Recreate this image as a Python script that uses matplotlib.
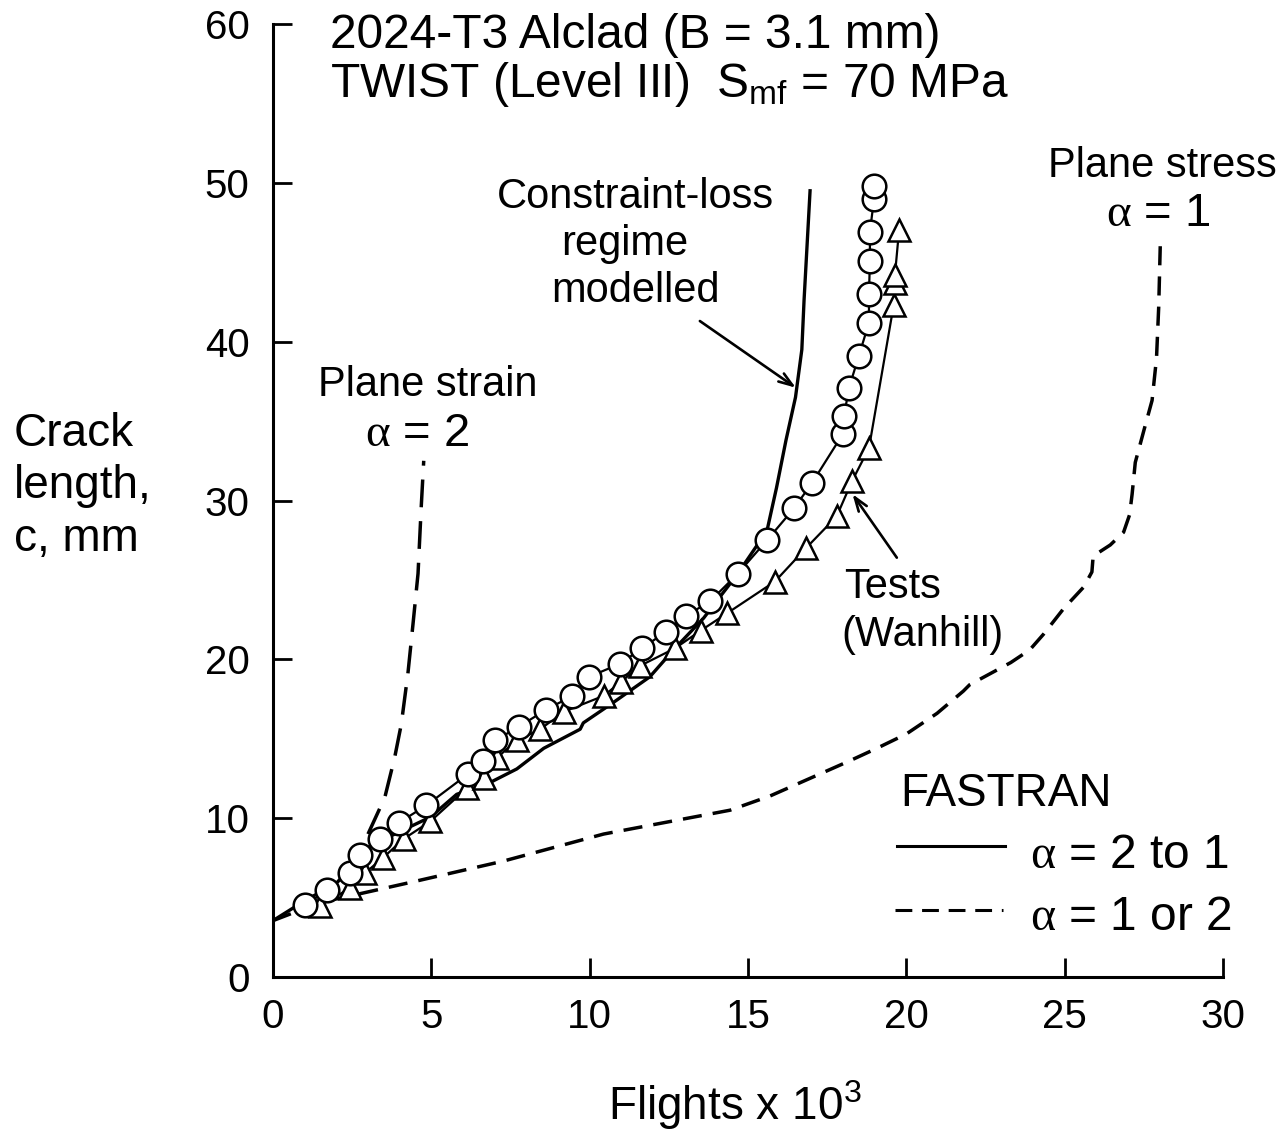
import matplotlib
matplotlib.use("Agg")
import matplotlib.pyplot as plt
from matplotlib.lines import Line2D

plt.rcParams['font.family'] = ['Liberation Sans', 'DejaVu Sans']
plt.rcParams['mathtext.fontset'] = 'custom'
plt.rcParams['mathtext.rm'] = 'Liberation Sans'
plt.rcParams['mathtext.it'] = 'Liberation Sans'
plt.rcParams['mathtext.sf'] = 'Liberation Serif'

# ---------------- data ----------------
test_circ_x = [1.02, 1.71, 2.44, 2.76, 3.37, 3.97, 4.84, 6.16, 6.62, 7.02, 7.76, 8.63,
               9.44, 9.97, 10.97, 11.65, 12.42, 13.05, 13.8, 14.68, 15.6, 16.45, 17.02,
               18.0, 18.03, 18.19, 18.5, 18.82, 18.82, 18.85, 18.85, 18.98, 18.98]
test_circ_y = [4.52, 5.48, 6.57, 7.66, 8.70, 9.71, 10.8, 12.78, 13.57, 14.9, 15.75, 16.84,
               17.68, 18.89, 19.73, 20.7, 21.74, 22.75, 23.65, 25.4, 27.5, 29.5, 31.1,
               34.2, 35.3, 37.1, 39.1, 41.2, 43.0, 45.1, 46.9, 49.0, 49.8]

test_tri_x = [1.49, 2.44, 2.92, 3.47, 4.13, 4.97, 6.13, 6.65, 7.07, 7.7, 8.44, 9.18,
              10.44, 11.0, 11.6, 12.7, 13.5, 14.34, 15.85, 16.83, 17.8, 18.28, 18.82,
              19.6, 19.64, 19.64, 19.77]
test_tri_y = [4.5, 5.6, 6.57, 7.5, 8.7, 9.8, 11.9, 12.5, 13.8, 14.9, 15.6, 16.7,
              17.7, 18.6, 19.6, 20.7, 21.8, 22.9, 24.9, 27.0, 29.0, 31.2, 33.3,
              42.3, 43.7, 44.2, 47.0]

fastran_21_x = [0, 1.0, 2.0, 3.07, 4.97, 5.8, 6.86, 7.7, 8.55, 9.7, 9.8, 10.76, 11.9,
                12.65, 13.6, 14.68, 15.6, 15.9, 16.2, 16.5, 16.7, 16.77, 16.96]
fastran_21_y = [3.55, 4.8, 5.9, 8.26, 10.07, 11.5, 12.25, 13.1, 14.4, 15.6, 16.0, 17.3, 18.9,
                20.6, 22.6, 25.4, 28.1, 30.8, 33.8, 36.5, 39.5, 42.6, 49.5]

stress_x = [0, 1.5, 2.65, 4.44, 7.28, 10.44, 14.43, 15.7, 18.2, 19.07, 20.0, 20.97, 21.8,
            22.0, 22.65, 23.3, 23.9, 24.34, 24.97, 25.6, 25.86, 25.9, 26.44, 26.86, 27.05,
            27.13, 27.23, 27.5, 27.76, 27.9, 27.97, 28.02]
stress_y = [3.55, 4.7, 5.2, 6.0, 7.3, 9.0, 10.5, 11.4, 13.6, 14.4, 15.3, 16.6, 18.0,
            18.4, 19.1, 19.8, 20.6, 21.6, 23.2, 24.55, 25.5, 26.5, 27.2, 28.0, 29.1,
            30.4, 32.4, 34.4, 36.3, 38.95, 42.2, 46.16]

strain_x = [3.0, 3.53, 3.84, 4.05, 4.26, 4.42, 4.58, 4.68, 4.76]
strain_y = [9.0, 11.3, 13.8, 15.9, 19.1, 22.2, 25.4, 29.56, 32.5]

x_ticks = [0, 5, 10, 15, 20, 25, 30]
y_ticks = [0, 10, 20, 30, 40, 50, 60]

# ---------------- figure ----------------
W, H = 1281, 1131
fig = plt.figure(figsize=(W / 100, H / 100), dpi=100)
ax = fig.add_axes([273 / W, 1 - 977 / H, (1223 - 273) / W, (977 - 24) / H])


def fx(px):
    return px / W


def fy(py):
    return 1 - py / H


ax.plot(fastran_21_x, fastran_21_y, color='black', lw=2.4, zorder=3)
ax.plot(stress_x, stress_y, color='black', lw=2.5, dashes=(5.5, 3.2), zorder=3)
ax.plot(strain_x, strain_y, color='black', lw=2.5, dashes=(8, 4), zorder=3)

ax.plot(test_circ_x, test_circ_y, color='black', lw=1.6, marker='o', ms=17,
        mfc='white', mec='black', mew=1.8, zorder=5)
ax.plot(test_tri_x, test_tri_y, color='black', lw=1.6, marker='^', ms=16,
        mfc='white', mec='black', mew=1.8, zorder=4)

ax.set_xlim(0, 30)
ax.set_ylim(0, 60)
ax.set_xticks(x_ticks)
ax.set_yticks(y_ticks)
ax.spines['top'].set_visible(False)
ax.spines['right'].set_visible(False)
ax.spines['left'].set_linewidth(2.2)
ax.spines['bottom'].set_linewidth(2.2)
ax.tick_params(direction='in', length=14, width=2, labelsize=29)
ax.tick_params(axis='x', pad=15)
ax.tick_params(axis='y', pad=17)
for s in ax.spines.values():
    s.set_clip_on(False)

# annotations (arrows)
ax.annotate('', xy=(16.51, 37.1), xytext=(13.48, 41.3),
            arrowprops=dict(arrowstyle='->,head_length=1.0,head_width=0.35', lw=1.9, color='black',
                            shrinkA=0, shrinkB=0))
ax.annotate('', xy=(18.3, 30.4), xytext=(19.7, 26.4),
            arrowprops=dict(arrowstyle='->,head_length=1.0,head_width=0.35', lw=1.9, color='black',
                            shrinkA=0, shrinkB=0))

# ---------------- text ----------------
fig.text(fx(330), fy(48), '2024-T3 Alclad (B = 3.1 mm)', fontsize=34.5, ha='left', va='baseline')
fig.text(fx(330), fy(97), r'TWIST (Level III)  S$_\mathrm{mf}$ = 70 MPa', fontsize=34.5,
         ha='left', va='baseline')

fig.text(fx(428), fy(396), 'Plane strain', fontsize=30, ha='center', va='baseline')
fig.text(fx(417), fy(446), r'$\mathsf{\alpha}$ = 2', fontsize=34, ha='center', va='baseline')

fig.text(fx(1162), fy(177), 'Plane stress', fontsize=30, ha='center', va='baseline')
fig.text(fx(1158), fy(226), r'$\mathsf{\alpha}$ = 1', fontsize=34, ha='center', va='baseline')

fig.text(fx(635), fy(208), 'Constraint-loss', fontsize=30, ha='center', va='baseline')
fig.text(fx(625), fy(255), 'regime', fontsize=30, ha='center', va='baseline')
fig.text(fx(635), fy(302), 'modelled', fontsize=30, ha='center', va='baseline')

fig.text(fx(893), fy(598), 'Tests', fontsize=30, ha='center', va='baseline')
fig.text(fx(922), fy(646), '(Wanhill)', fontsize=30, ha='center', va='baseline')

fig.text(fx(900), fy(806), 'FASTRAN', fontsize=33, ha='left', va='baseline')
fig.add_artist(Line2D([fx(897), fx(1005)], [fy(846), fy(846)], color='black', lw=2.2,
                      transform=fig.transFigure))
fig.text(fx(1030), fy(868), r'$\mathsf{\alpha}$ = 2 to 1', fontsize=34.5, ha='left', va='baseline')
fig.add_artist(Line2D([fx(895), fx(1003)], [fy(910), fy(910)], color='black', lw=2.2,
                      dashes=(5.5, 3.2), transform=fig.transFigure))
fig.text(fx(1030), fy(930), r'$\mathsf{\alpha}$ = 1 or 2', fontsize=34.5, ha='left', va='baseline')

fig.text(fx(14), fy(446), 'Crack', fontsize=33, ha='left', va='baseline')
fig.text(fx(14), fy(498), 'length,', fontsize=33, ha='left', va='baseline')
fig.text(fx(14), fy(551), 'c, mm', fontsize=33, ha='left', va='baseline')

fig.text(fx(735), fy(1120), r'Flights x 10$^3$', fontsize=33, ha='center', va='baseline')

fig.savefig('out.png', dpi=100, facecolor='white')
